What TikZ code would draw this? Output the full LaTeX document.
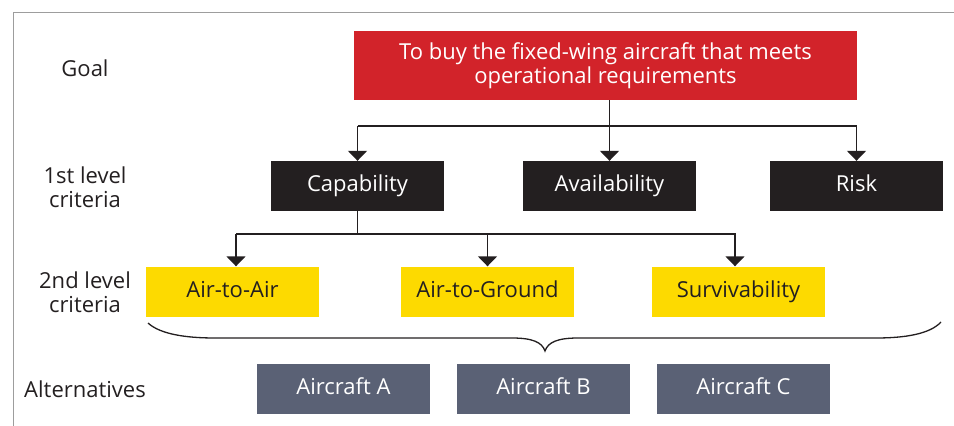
\documentclass[tikz,border=0pt]{standalone}
\usepackage{fontspec}
\setmainfont{Open Sans}
\usetikzlibrary{arrows.meta}
\definecolor{goalred}{HTML}{D2232A}
\definecolor{critblack}{HTML}{231F20}
\definecolor{crityellow}{HTML}{FDDA00}
\definecolor{altslate}{HTML}{5A6175}
\definecolor{framegray}{HTML}{9D9D9D}
\tikzset{
  box/.style={minimum width=173pt, minimum height=50pt, inner sep=0pt, align=center},
  onebox/.style={box, text height=16pt, text depth=5pt},
  goalbox/.style={box, fill=goalred, text=white, minimum width=503pt, minimum height=69pt},
  crit1/.style={onebox, fill=critblack, text=white},
  crit2/.style={onebox, fill=crityellow, text=critblack},
  altbox/.style={onebox, fill=altslate, text=white},
  rowlabel/.style={align=center, text=critblack},
  conn/.style={draw=critblack, line width=1.5pt},
  arr/.style={conn, -{Triangle[width=19pt,length=10pt]}},
}
\begin{document}
\begin{tikzpicture}[x=1pt, y=-1pt, font=\fontsize{22}{24}\selectfont]
\useasboundingbox (0,0) rectangle (954,426);
% frame
\draw[framegray, line width=1.4pt] (13.5,426) -- (13.5,12.5) -- (954,12.5);

% row labels
\node[rowlabel] (lgoal) at (85,68) {Goal};
\node[rowlabel] (lcrit1) at (85,187) {1st level\\criteria};
\node[rowlabel] (lcrit2) at (85,292) {2nd level\\criteria};
\node[rowlabel] (lalt) at (85,389) {Alternatives};

% goal
\node[goalbox] (goal) at (605.5,65.5) {To buy the fixed-wing aircraft that meets\\operational requirements};

% first level
\node[crit1] (cap) at (357.5,186) {Capability};
\node[crit1] (avail) at (609.5,186) {Availability};
\node[crit1] (risk) at (856.5,186) {Risk};

% second level
\node[crit2] (a2a) at (232.5,291.5) {Air-to-Air};
\node[crit2] (a2g) at (487.5,291.5) {Air-to-Ground};
\node[crit2] (surv) at (738.5,291.5) {Survivability};

% alternatives
\node[altbox] (acA) at (343.5,389) {Aircraft A};
\node[altbox] (acB) at (543.5,389) {Aircraft B};
\node[altbox] (acC) at (743.5,389) {Aircraft C};

% connectors level 1
\coordinate (bus1) at (0,126);
\draw[arr] (goal.south -| avail.north) -- (avail.north);
\draw[arr] (cap.north |- bus1) -- (cap.north);
\draw[arr] (cap.north |- bus1) -| (risk.north);

% connectors level 2
\coordinate (bus2) at (0,234);
\coordinate (a2aTop) at ([xshift=3.5pt]a2a.north);
\coordinate (survTop) at ([xshift=-3.5pt]surv.north);
\draw[conn] (cap.south) -- (cap.south |- bus2);
\draw[arr] (a2aTop |- bus2) -- (a2aTop);
\draw[arr] (a2g.north |- bus2) -- (a2g.north);
\draw[arr] (a2aTop |- bus2) -| (survTop);

% brace
\coordinate (brL) at (148,323);
\coordinate (brTip) at (545,351);
\coordinate (brR) at (941,322);
\draw[conn, line width=1.3pt] (brL) .. controls (160,334) and (185,338) .. (215,338)
  -- (512,338) .. controls (532,338) and (542,342) .. (brTip)
  .. controls (548,342) and (558,338) .. (578,338)
  -- (876,338) .. controls (905,338) and (930,334) .. (brR);
\end{tikzpicture}
\end{document}
